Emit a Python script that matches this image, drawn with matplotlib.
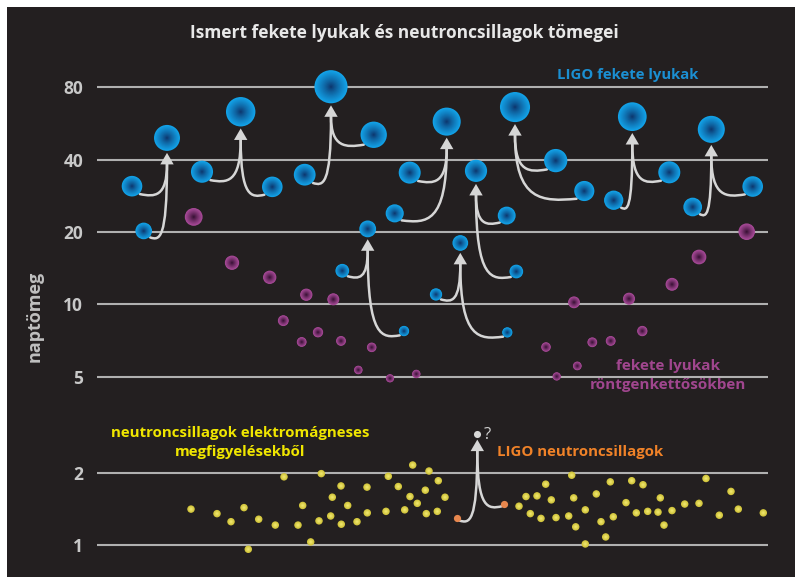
import numpy as np
import matplotlib
matplotlib.use("Agg")
import matplotlib.pyplot as plt
import matplotlib.colors as mcolors
from matplotlib.path import Path
from matplotlib.patches import PathPatch, Polygon, Rectangle

# LIGO binary black holes: two components and the remnant (x = slot on the chart)
bh_x1 = [132, 202, 304.7, 342.3, 409.7, 436, 506.7, 555.7, 613.7, 692.7]
bh_m1 = [31.0, 35.6, 34.6, 13.8, 35.3, 11.0, 23.4, 39.6, 27.1, 25.4]
bh_x2 = [143.7, 272.3, 373.7, 404, 394.7, 507.3, 516.3, 584.3, 669.3, 752.7]
bh_m2 = [20.2, 30.8, 50.7, 7.75, 23.9, 7.65, 13.7, 29.6, 35.4, 30.9]
bh_xf = [167, 240.7, 331, 367.7, 446.7, 460.3, 476, 515, 632.3, 711.3]
bh_mf = [49.2, 63.2, 80.3, 20.6, 57.5, 18.0, 35.9, 66.1, 60.3, 53.4]

# LIGO neutron star merger
ns_x = [457.3, 504]
ns_m = [1.29, 1.48]
ns_xf = 477.3
ns_mf = 2.89

# black holes in X-ray binaries
xrb_x = [193.7, 232, 269.7, 283.3, 301.7, 306.3, 318, 333.3, 341, 358.3, 371.7, 390,
         416.3, 546, 556.7, 574, 577.3, 592.3, 610.7, 629, 642.3, 672, 699, 746.7]
xrb_m = [23.1, 14.9, 12.96, 8.56, 6.98, 10.97, 7.66, 10.5, 7.05, 5.34, 6.63, 4.93,
         5.14, 6.65, 5.02, 10.2, 5.55, 6.96, 7.05, 10.56, 7.75, 12.12, 15.74, 20.05]

# neutron stars from electromagnetic observations
em_x = [191, 217, 231, 244, 248.3, 258.7, 275.3, 284, 298, 302.7, 310.7, 319, 321.3,
        330.7, 332.3, 341, 341.3, 347.7, 357, 367, 367.3, 386, 388.3, 398.3, 404.7,
        410, 412.7, 417.3, 425.3, 426.3, 429, 437.3, 438.3, 445,
        519, 526, 530.3, 537, 541, 545.7, 551.3, 556, 568.7, 571.7, 573.7, 575.7,
        585.3, 585.3, 596.3, 601, 605.7, 610.3, 613.3, 626, 631.7, 636.3, 643, 647.7,
        658, 660.3, 664, 672, 684.7, 699, 706, 719.3, 731, 738.3, 763.3]
em_m = [1.41, 1.35, 1.25, 1.43, 0.96, 1.28, 1.21, 1.92, 1.21, 1.46, 1.03, 1.26, 1.98,
        1.32, 1.58, 1.76, 1.22, 1.46, 1.25, 1.74, 1.36, 1.38, 1.93, 1.75, 1.40,
        1.59, 2.15, 1.49, 1.69, 1.35, 2.03, 1.38, 1.85, 1.58,
        1.45, 1.59, 1.35, 1.60, 1.29, 1.79, 1.54, 1.30, 1.32, 1.95, 1.57, 1.19,
        1.40, 1.01, 1.63, 1.25, 1.08, 1.83, 1.31, 1.50, 1.85, 1.36, 1.78, 1.38,
        1.37, 1.57, 1.21, 1.39, 1.48, 1.49, 1.89, 1.33, 1.67, 1.41, 1.36]

yticks = [1, 2, 5, 10, 20, 40, 80]
ytick_labels = ["1", "2", "5", "10", "20", "40", "80"]

W, H = 795, 577
BG = "#231f20"
ARROW = "#d6d6d6"
FONT = "Open Sans"

# layout in pixels: mass 1 sits at y=545, 240.6 px per decade
Y1, DEC = 545, 240.6
top_px, bot_px = 62, 570
x_left, x_right = 97, 768


def px_to_mass(y):
    return 10 ** ((Y1 - y) / DEC)


fig = plt.figure(figsize=(W / 100, H / 100), dpi=100, facecolor="white")
fig.add_artist(Rectangle((7 / W, 0), 1 - 7 / W, 1 - 7 / H, transform=fig.transFigure,
                         facecolor=BG, edgecolor="none", zorder=0))

ax = fig.add_axes([x_left / W, 1 - bot_px / H, (x_right - x_left) / W, (bot_px - top_px) / H])
ax.set_facecolor("none")
ax.set_yscale("log")
ax.set_xlim(x_left, x_right)
ax.set_ylim(px_to_mass(bot_px), px_to_mass(top_px))
ax.set_yticks(yticks)
ax.set_yticklabels(ytick_labels)
ax.yaxis.set_minor_locator(matplotlib.ticker.NullLocator())
ax.set_xticks([])
ax.tick_params(axis="y", length=0, pad=10, labelsize=12.5, labelcolor="#c8c8c8")
for lab in ax.get_yticklabels():
    lab.set_fontfamily(FONT)
    lab.set_fontweight("bold")
for sp in ax.spines.values():
    sp.set_visible(False)
ax.grid(axis="y", color="#b0b0b0", linewidth=1.5, zorder=1)
ax.set_axisbelow(True)


def radius_px(m):
    return 1.85 * np.sqrt(m)


def gradient_dots(x, m, s, edge, center, n=14, gamma=0.8, z=5):
    e = np.array(mcolors.to_rgb(edge))
    c = np.array(mcolors.to_rgb(center))
    s = np.asarray(s, float)
    for i in range(n):
        rho = 1 - i / n
        col = c + (e - c) * rho ** gamma
        ax.scatter(x, m, s=s * rho ** 2, color=col, linewidths=0, zorder=z, clip_on=False)


def to_data(pts):
    return ax.transData.inverted().transform(np.asarray(pts))


def merge_arrow(xc, mc, xf, mf, rf):
    # curve from a component to the stem under the remnant
    c = ax.transData.transform((xc, mc))
    f = ax.transData.transform((xf, mf))
    r = radius_px(mc)
    side = 1 if f[0] > c[0] else -1
    S = c + (r + 1) * np.array([side * 0.7, -0.7])
    tip = f + np.array([0, -(rf + 2)])
    base = tip + np.array([0, -11])
    C1 = [S[0] + 0.55 * (base[0] - S[0]), S[1] - 3]
    C2 = [base[0], S[1] - 3]
    verts = to_data([S, C1, C2, base])
    path = Path(verts, [Path.MOVETO, Path.CURVE4, Path.CURVE4, Path.CURVE4])
    ax.add_patch(PathPatch(path, facecolor="none", edgecolor=ARROW, linewidth=1.8,
                           capstyle="round", zorder=3, clip_on=False))


def arrow_head(xf, mf, rf):
    f = ax.transData.transform((xf, mf))
    tip = f + np.array([0, -(rf + 2)])
    pts = [tip, tip + [-6.7, -11.5], tip + [6.7, -11.5]]
    ax.add_patch(Polygon(to_data(pts), closed=True, facecolor=ARROW, edgecolor="none",
                         zorder=3, clip_on=False))


for i in range(len(bh_xf)):
    rf = radius_px(bh_mf[i])
    merge_arrow(bh_x1[i], bh_m1[i], bh_xf[i], bh_mf[i], rf)
    merge_arrow(bh_x2[i], bh_m2[i], bh_xf[i], bh_mf[i], rf)
    arrow_head(bh_xf[i], bh_mf[i], rf)

for xc, mc in zip(ns_x, ns_m):
    merge_arrow(xc, mc, ns_xf, ns_mf, 3.5)
arrow_head(ns_xf, ns_mf, 3.5)

# marker sizes: area proportional to mass
def area(m):
    return (2 * radius_px(np.asarray(m, float)) * 0.72) ** 2


gradient_dots(xrb_x, xrb_m, area(xrb_m), "#a84a98", "#2a0a28")
bx = bh_x1 + bh_x2 + bh_xf
bm = bh_m1 + bh_m2 + bh_mf
gradient_dots(bx, bm, area(bm), "#12a2e8", "#0c2c62")
gradient_dots(em_x, em_m, np.full(len(em_x), 29.0), "#cfc23a", "#f6ee78", n=6, gamma=1.0)
ax.scatter(ns_x, ns_m, s=27, color="#e8874e", linewidths=0, zorder=5, clip_on=False)
ax.scatter([ns_xf], [ns_mf], s=26, color="#d8d8d8", linewidths=0, zorder=5, clip_on=False)


def ftext(x, y, s, color, size=12.5, ha="center", weight="bold", **kw):
    fig.text(x / W, 1 - y / H, s, color=color, fontsize=size, ha=ha, va="center",
             fontfamily=FONT, fontweight=weight, **kw)


ftext(404, 33, "Ismert fekete lyukak és neutroncsillagok tömegei", "#e8e8e8")
ftext(35, 316, "naptömeg", "#c0c0c0", size=13, rotation=90)
ftext(628, 75, "LIGO fekete lyukak", "#1b8fd2", size=10.7)
ftext(668, 366, "fekete lyukak", "#a0468e", size=11)
ftext(668, 385, "röntgenkettősökben", "#a0468e", size=11)
ftext(240.5, 433, "neutroncsillagok elektromágneses", "#f0e600", size=10.8)
ftext(240.5, 452, "megfigyelésekből", "#f0e600", size=10.8)
ftext(497, 452, "LIGO neutroncsillagok", "#f08228", size=10.8, ha="left")
ftext(487, 435, "?", "#d0d0d0", size=12, weight="normal")

fig.savefig("out.png", dpi=100, facecolor=fig.get_facecolor())
